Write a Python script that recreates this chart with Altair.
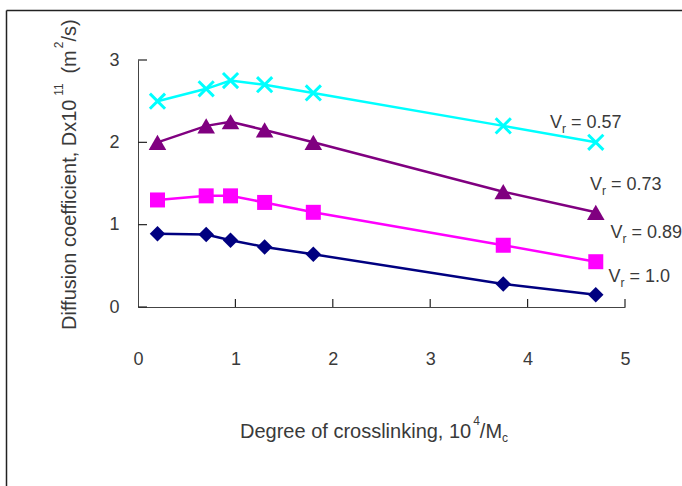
import altair as alt
import pandas as pd

# Degree of crosslinking, 10^4 / Mc
crosslink = [0.2, 0.7, 0.95, 1.3, 1.8, 3.75, 4.7]

# Diffusion coefficient D x 10^11 (m^2/s) for each volume fraction Vr
d_057 = [2.5, 2.65, 2.75, 2.7, 2.6, 2.2, 2.0]
d_073 = [2.0, 2.2, 2.25, 2.15, 2.0, 1.4, 1.15]
d_089 = [1.3, 1.35, 1.35, 1.27, 1.15, 0.75, 0.55]
d_100 = [0.89, 0.88, 0.81, 0.73, 0.64, 0.28, 0.15]

series_names = ["0.57", "0.73", "0.89", "1.0"]
series_values = [d_057, d_073, d_089, d_100]
series_colors = ["#00FFFF", "#800080", "#FF00FF", "#000080"]
series_shapes = ["M-1,-1L1,1M-1,1L1,-1", "triangle-up", "square", "diamond"]
series_sizes = [230, 310, 225, 240]

# where each "Vr = ..." annotation starts (data units)
label_x = [4.23, 4.64, 4.85, 4.83]
label_y = [2.24, 1.48, 0.90, 0.36]

x_ticks = [0, 1, 2, 3, 4, 5]
y_ticks = [0, 1, 2, 3]

W, H = 487, 247
FONT = "Liberation Sans"
TXT = "#3a3a3a"

# Arial/Liberation Sans advance widths (per 1000 em)
_w = {" ": 278, ",": 278, ".": 278, "/": 278, "(": 333, ")": 333, "=": 584}
_w.update({d: 556 for d in "0123456789"})
_w.update(dict(zip("abcdefghijklmnopqrstuvwxyz",
                   [556, 556, 500, 556, 556, 278, 556, 556, 222, 222, 500, 222, 833,
                    556, 556, 556, 556, 333, 500, 278, 556, 500, 722, 500, 500, 500])))
_w.update({"D": 722, "M": 833, "V": 667})


def text_width(s, size):
    return sum(_w.get(c, 556) for c in s) * size / 1000.0


rows = []
for name, vals in zip(series_names, series_values):
    for xv, yv in zip(crosslink, vals):
        rows.append({"x": xv, "d": yv, "series": name})
df = pd.DataFrame(rows)

xs = alt.Scale(domain=[0, 5], nice=False, zero=False)
ys = alt.Scale(domain=[0, 3], nice=False, zero=False)

XAX = alt.Axis(values=x_ticks, ticks=False, tickSize=0, grid=False, title=None,
               labelPadding=43, labelFontSize=18, labelFont=FONT, labelColor=TXT,
               domainColor="#444444", labelFlush=False)
YAX = alt.Axis(values=y_ticks, ticks=False, tickSize=0, grid=False, title=None,
               labelPadding=19, labelFontSize=18, labelFont=FONT, labelColor=TXT,
               domainColor="#444444", labelFlush=False)


def xe(field):
    return alt.X(field, scale=xs, axis=XAX, title=None)


def ye(field):
    return alt.Y(field, scale=ys, axis=YAX, title=None)


layers = []
for name, col, shp, sz in zip(series_names, series_colors, series_shapes, series_sizes):
    base = alt.Chart(df[df["series"] == name])
    layers.append(base.mark_line(color=col, strokeWidth=2.5).encode(
        x=xe("x:Q"), y=ye("d:Q")))
    if shp.startswith("M"):
        pts = base.mark_point(shape=shp, filled=False, color=col, strokeWidth=3,
                              size=sz, opacity=1)
    else:
        pts = base.mark_point(shape=shp, filled=True, color=col, size=sz, opacity=1)
    layers.append(pts.encode(x=xe("x:Q"), y=ye("d:Q")))

# inward tick marks
yt = pd.DataFrame({"d": y_ticks})
layers.append(alt.Chart(yt).mark_rule(color="#222222", strokeWidth=1.2).encode(
    y=ye("d:Q"), x=alt.value(0), x2=alt.value(9)))
xt = pd.DataFrame({"x": x_ticks[1:]})
layers.append(alt.Chart(xt).mark_rule(color="#222222", strokeWidth=1.2).encode(
    x=xe("x:Q"), y=alt.value(H), y2=alt.value(H - 8)))

# "Vr = ..." annotations with subscript r
LS, SS = 18, 12
lab = pd.DataFrame({"x": label_x, "d": label_y,
                    "rest": ["= " + n for n in series_names]})
lbase = alt.Chart(lab)
layers.append(lbase.mark_text(text="V", align="left", baseline="middle", font=FONT,
                              fontSize=LS, color=TXT).encode(x=xe("x:Q"), y=ye("d:Q")))
layers.append(lbase.mark_text(text="r", align="left", baseline="middle", font=FONT,
                              fontSize=SS, color=TXT, dx=text_width("V", LS),
                              dy=6).encode(x=xe("x:Q"), y=ye("d:Q")))
layers.append(lbase.mark_text(align="left", baseline="middle", font=FONT,
                              fontSize=LS, color=TXT,
                              dx=text_width("V ", LS) + text_width("r", SS)).encode(
    x=xe("x:Q"), y=ye("d:Q"), text="rest:N"))

# axis titles built from pieces (superscripts / subscripts)
TS, TSS = 20, 12
one = pd.DataFrame({"k": [0]})


def piece(txt, x, y, size, dx=0, dy=0, angle=0):
    kw = dict(text=txt, align="left", baseline="alphabetic", font=FONT,
              fontSize=size, color=TXT, dx=dx, dy=dy)
    if angle:
        kw["angle"] = angle
    return alt.Chart(one).mark_text(**kw).encode(x=alt.value(x), y=alt.value(y))


# x title
tx, ty = 102, 378
main = "Degree of crosslinking, 10"
w0 = text_width(main, TS)
layers.append(piece(main, tx, ty, TS))
layers.append(piece("4", tx, ty, TSS, dx=w0 + 2, dy=-13))
w1 = w0 + 2 + text_width("4", TSS)
layers.append(piece("/M", tx, ty, TS, dx=w1))
w2 = w1 + text_width("/M", TS)
layers.append(piece("c", tx, ty, TSS, dx=w2, dy=4))

# y title (rotated, reading bottom to top)
yx, yy = -62, 270
m1 = "Diffusion coefficient, Dx10"
a = text_width(m1, TS)
layers.append(piece(m1, yx, yy, TS, angle=270))
layers.append(piece("11", yx, yy, TSS, dx=a + 3, dy=-13, angle=270))
b = a + 3 + text_width("11 ", TSS) + text_width(" ", TS)
layers.append(piece("(m", yx, yy, TS, dx=b, angle=270))
c = b + text_width("(m", TS)
layers.append(piece("2", yx, yy, TSS, dx=c + 2, dy=-13, angle=270))
d = c + 2 + text_width("2", TSS)
layers.append(piece("/s)", yx, yy, TS, dx=d, angle=270))

# outer figure frame (left and top edges)
layers.append(alt.Chart(one).mark_rule(color="#222222", strokeWidth=1.5).encode(
    x=alt.value(-131.5), y=alt.value(-49.5), y2=alt.value(H + 300)))
layers.append(alt.Chart(one).mark_rule(color="#222222", strokeWidth=1.5).encode(
    x=alt.value(-131.5), x2=alt.value(W + 300), y=alt.value(-49.5)))

chart = alt.layer(*layers).properties(
    width=W, height=H,
    autosize=alt.AutoSizeParams(type="none"),
    padding={"left": 138, "top": 60, "right": 57, "bottom": 179},
    background="white",
).configure_view(stroke=None)

chart.save("out.html", embed_options={"renderer": "svg", "actions": False})
